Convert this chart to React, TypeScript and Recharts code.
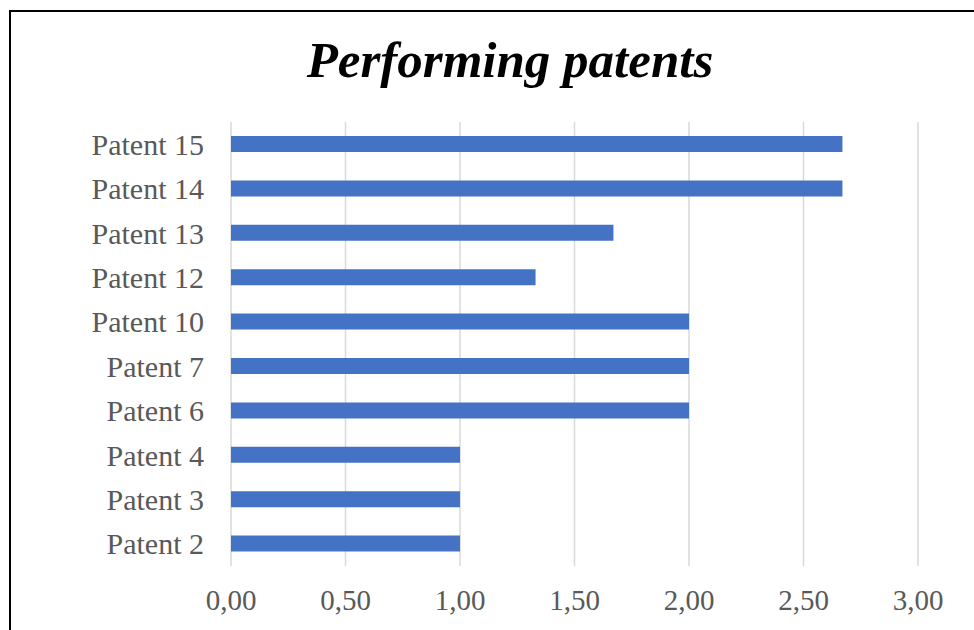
import { BarChart, Bar, XAxis, YAxis, CartesianGrid } from 'recharts';

// top to bottom, as drawn
const patents = ['Patent 15', 'Patent 14', 'Patent 13', 'Patent 12', 'Patent 10', 'Patent 7', 'Patent 6', 'Patent 4', 'Patent 3', 'Patent 2'];
const scores = [2.67, 2.67, 1.67, 1.33, 2.0, 2.0, 2.0, 1.0, 1.0, 1.0];
const xTicks = [0, 0.5, 1, 1.5, 2, 2.5, 3];

const data = patents.map((name, i) => ({ name, score: scores[i] }));

const serif = '"Liberation Serif", "Times New Roman", serif';

export default function App() {
  return (
    <div style={{ position: 'fixed', left: 0, top: 0, width: 974, height: 630, overflow: 'hidden', background: '#fff' }}>
      <div
        style={{
          position: 'absolute',
          left: 9,
          top: 10,
          width: 1000,
          height: 700,
          border: '2px solid #000',
        }}
      />
      <div
        style={{
          position: 'absolute',
          left: 23,
          top: 35,
          width: 974,
          textAlign: 'center',
          fontFamily: serif,
          fontSize: 51,
          lineHeight: '51px',
          fontWeight: 'bold',
          fontStyle: 'italic',
          color: '#000',
        }}
      >
        Performing patents
      </div>
      <div style={{ position: 'absolute', left: 0, top: 0 }}>
        <BarChart
          width={974}
          height={630}
          data={data}
          layout="vertical"
          margin={{ top: 122, right: 56, bottom: 14, left: 0 }}
        >
          <CartesianGrid horizontal={false} stroke="#d9d9d9" strokeWidth={1.5} />
          <XAxis
            type="number"
            domain={[0, 3]}
            ticks={xTicks}
            tickFormatter={(v: number) => v.toFixed(2).replace('.', ',')}
            axisLine={false}
            tickLine={false}
            tickSize={0}
            tickMargin={23}
            height={50}
            tick={{ fill: '#595959', fontSize: 29, fontFamily: serif }}
          />
          <YAxis
            type="category"
            dataKey="name"
            width={231}
            axisLine={false}
            tickLine={false}
            tickSize={0}
            tickMargin={27}
            interval={0}
            tick={{ fill: '#595959', fontSize: 30, fontFamily: serif }}
          />
          <Bar dataKey="score" fill="#4472C4" barSize={16} isAnimationActive={false} />
        </BarChart>
      </div>
    </div>
  );
}
